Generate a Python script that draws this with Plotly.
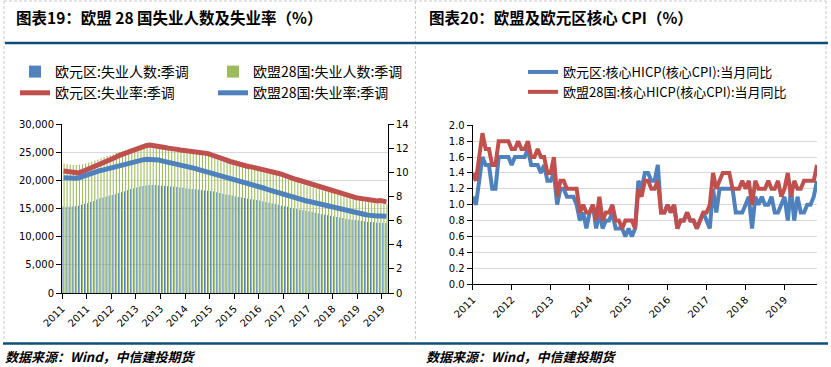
import plotly.graph_objects as go

W, H = 831, 367

# ---------------- data ----------------
months_left = [f"{y}-{m:02d}" for y in range(2011, 2020) for m in range(1, 13)][:106]

# 欧元区:失业人数:季调 (千人)
ea_unemployed = [
    15300, 15300, 15320, 15350, 15400, 15500, 15650, 15800, 15950, 16150, 16350, 16600,
    16800, 16950, 17100, 17250, 17400, 17550, 17700, 17900, 18050, 18250, 18450, 18600,
    18750, 18900, 19000, 19100, 19150, 19170, 19150, 19100, 19050, 19000, 18950, 18900,
    18850, 18800, 18750, 18700, 18600, 18500, 18450, 18400, 18350, 18250, 18200, 18150,
    18100, 18000, 17900, 17750, 17600, 17500, 17400, 17300, 17150, 17050, 16950, 16850,
    16750, 16650, 16600, 16500, 16400, 16250, 16150, 16000, 15900, 15800, 15650, 15500,
    15400, 15300, 15150, 15000, 14900, 14800, 14700, 14600, 14500, 14400, 14250, 14100,
    14000, 13900, 13800, 13700, 13600, 13500, 13400, 13300, 13200, 13100, 13000, 12950,
    12850, 12800, 12700, 12650, 12600, 12550, 12500, 12480, 12450, 12430,
]
# 欧盟28国:失业人数:季调 (千人)
eu28_unemployed = [
    23000, 22850, 22750, 22700, 22700, 22750, 22850, 23000, 23150, 23300, 23500, 23700,
    23900, 24100, 24300, 24450, 24650, 24850, 25000, 25150, 25350, 25550, 25750, 25950,
    26150, 26300, 26450, 26550, 26570, 26550, 26500, 26400, 26300, 26200, 26100, 26000,
    25900, 25820, 25750, 25680, 25600, 25500, 25400, 25300, 25200, 25080, 24950, 24850,
    24700, 24600, 24500, 24350, 24200, 24050, 23900, 23750, 23600, 23450, 23300, 23150,
    23000, 22800, 22550, 22300, 22100, 21900, 21700, 21500, 21300, 21050, 20800, 20550,
    20350, 20150, 19950, 19750, 19550, 19350, 19150, 18950, 18850, 18700, 18550, 18400,
    18250, 18100, 17950, 17800, 17700, 17550, 17400, 17250, 17100, 16950, 16800, 16650,
    16500, 16350, 16200, 16100, 16000, 15900, 15850, 15800, 15760, 15740,
]
# 欧元区:失业率:季调 (%)
ea_rate = [
    10.10, 10.05, 10.00, 9.95, 9.92, 9.95, 10.05, 10.15, 10.30, 10.45, 10.55, 10.65,
    10.75, 10.85, 10.95, 11.05, 11.15, 11.25, 11.38, 11.48, 11.58, 11.68, 11.80, 11.90,
    12.00, 12.10, 12.18, 12.22, 12.25, 12.23, 12.20, 12.15, 12.10, 12.05, 12.00, 12.00,
    11.95, 11.90, 11.85, 11.82, 11.80, 11.78, 11.75, 11.72, 11.68, 11.65, 11.60, 11.55,
    11.45, 11.38, 11.30, 11.20, 11.10, 11.00, 10.90, 10.82, 10.75, 10.68, 10.60, 10.52,
    10.48, 10.45, 10.40, 10.35, 10.30, 10.25, 10.15, 10.10, 10.05, 10.00, 9.90, 9.82,
    9.70, 9.65, 9.55, 9.45, 9.38, 9.30, 9.20, 9.12, 9.05, 8.95, 8.85, 8.75,
    8.70, 8.65, 8.58, 8.50, 8.45, 8.38, 8.28, 8.20, 8.12, 8.05, 7.98, 7.90,
    7.85, 7.80, 7.75, 7.70, 7.65, 7.60, 7.62, 7.65, 7.60, 7.55,
]
# 欧盟28国:失业率:季调 (%)
eu28_rate = [
    9.55, 9.52, 9.50, 9.50, 9.50, 9.55, 9.65, 9.75, 9.85, 9.95, 10.02, 10.10,
    10.15, 10.20, 10.25, 10.30, 10.38, 10.45, 10.50, 10.58, 10.65, 10.72, 10.80, 10.88,
    10.95, 11.00, 11.05, 11.08, 11.08, 11.08, 11.06, 11.02, 10.95, 10.90, 10.85, 10.80,
    10.72, 10.65, 10.60, 10.55, 10.50, 10.45, 10.38, 10.30, 10.22, 10.15, 10.10, 10.05,
    9.95, 9.88, 9.82, 9.75, 9.65, 9.58, 9.50, 9.42, 9.35, 9.28, 9.20, 9.12,
    9.05, 9.00, 8.95, 8.85, 8.78, 8.70, 8.60, 8.52, 8.45, 8.38, 8.30, 8.20,
    8.10, 8.05, 7.98, 7.90, 7.82, 7.75, 7.70, 7.62, 7.58, 7.52, 7.45, 7.35,
    7.30, 7.22, 7.15, 7.08, 7.00, 6.95, 6.88, 6.82, 6.78, 6.72, 6.68, 6.62,
    6.60, 6.55, 6.50, 6.45, 6.40, 6.38, 6.38, 6.38, 6.38, 6.35,
]
left_tick_labels = ["2011", "2011", "2012", "2013", "2013", "2014", "2015",
                    "2015", "2016", "2017", "2017", "2018", "2019", "2019"]

months_right = [f"{y}-{m:02d}" for y in range(2011, 2020) for m in range(1, 13)][:107]
# 欧元区:核心HICP(核心CPI):当月同比 (%)
ea_core_hicp = [
    1.1, 1.0, 1.3, 1.6, 1.5, 1.5, 1.2, 1.2, 1.6, 1.6, 1.6, 1.6,
    1.5, 1.6, 1.6, 1.6, 1.6, 1.7, 1.5, 1.5, 1.5, 1.4, 1.5, 1.3,
    1.3, 1.4, 1.0, 1.2, 1.2, 1.1, 1.1, 1.1, 1.0, 0.8, 0.9, 0.7,
    0.9, 1.0, 0.7, 0.9, 0.7, 0.8, 0.8, 0.9, 0.7, 0.7, 0.7, 0.6,
    0.7, 0.6, 0.7, 1.3, 1.2, 1.4, 1.4, 1.3, 1.3, 1.5, 0.9, 0.9,
    1.0, 0.9, 1.0, 0.7, 0.8, 0.8, 0.9, 0.8, 0.8, 0.7, 0.8, 0.9,
    0.8, 0.7, 1.2, 0.9, 1.2, 1.2, 1.2, 1.2, 1.2, 0.9, 0.9, 0.9,
    1.0, 1.1, 0.7, 1.1, 1.0, 1.1, 1.0, 1.0, 1.1, 0.9, 0.9, 1.0,
    1.1, 0.8, 1.2, 0.8, 1.1, 0.9, 0.9, 1.0, 1.0, 1.1, 1.3,
]
# 欧盟28国:核心HICP(核心CPI):当月同比 (%)
eu28_core_hicp = [
    1.4, 1.3, 1.6, 1.9, 1.7, 1.7, 1.5, 1.5, 1.8, 1.8, 1.8, 1.8,
    1.7, 1.7, 1.8, 1.7, 1.7, 1.8, 1.6, 1.6, 1.7, 1.6, 1.6, 1.4,
    1.4, 1.6, 1.1, 1.3, 1.3, 1.2, 1.2, 1.2, 1.2, 0.9, 1.0, 0.9,
    0.9, 1.0, 0.8, 1.1, 0.8, 0.9, 0.9, 1.0, 0.8, 0.8, 0.7, 0.8,
    0.8, 0.8, 0.7, 1.2, 1.1, 1.3, 1.3, 1.2, 1.2, 1.3, 0.9, 0.9,
    1.0, 0.9, 1.0, 0.7, 0.8, 0.8, 0.9, 0.8, 0.8, 0.7, 0.8, 0.9,
    0.9, 1.0, 1.4, 1.2, 1.3, 1.4, 1.4, 1.4, 1.2, 1.2, 1.2, 1.3,
    1.2, 1.3, 1.0, 1.3, 1.2, 1.2, 1.2, 1.3, 1.2, 1.2, 1.3, 1.1,
    1.2, 1.4, 1.1, 1.3, 1.2, 1.2, 1.3, 1.3, 1.3, 1.3, 1.5,
]
right_tick_labels = ["2011", "2012", "2013", "2014", "2015", "2016", "2017", "2018", "2019"]

# ---------------- styling helpers ----------------
BLUE = "#4F81BD"
GREEN = "#9BBB59"
RED = "#C0504D"
NAVY = "#0E4E7B"
GRID = "#D9D9D9"
CJK = "Noto Sans CJK SC"
TICKFONT = dict(family="DejaVu Sans", size=10, color="#000000")


def px(x):
    return x / W


def py(y):
    return 1 - y / H


xl = list(range(len(months_left)))
xr = list(range(len(months_right)))

fig = go.Figure()
fig.add_trace(go.Bar(
    x=xl, y=ea_unemployed, name="欧元区:失业人数:季调", customdata=months_left,
    marker=dict(color="rgba(79,129,189,0.99)", line=dict(width=0)),
    xaxis="x", yaxis="y", legend="legend"))
fig.add_trace(go.Bar(
    x=xl, y=eu28_unemployed, name="欧盟28国:失业人数:季调", customdata=months_left,
    marker=dict(color="rgba(155,187,89,0.99)", line=dict(width=0)),
    xaxis="x", yaxis="y", legend="legend2"))
fig.add_trace(go.Scatter(
    x=xl, y=ea_rate, name="欧元区:失业率:季调", mode="lines",
    line=dict(color=RED, width=5), xaxis="x", yaxis="y2", legend="legend"))
fig.add_trace(go.Scatter(
    x=xl, y=eu28_rate, name="欧盟28国:失业率:季调", mode="lines",
    line=dict(color=BLUE, width=5), xaxis="x", yaxis="y2", legend="legend2"))
fig.add_trace(go.Scatter(
    x=xr, y=ea_core_hicp, name="欧元区:核心HICP(核心CPI):当月同比", mode="lines",
    line=dict(color=BLUE, width=4), xaxis="x2", yaxis="y3", legend="legend3"))
fig.add_trace(go.Scatter(
    x=xr, y=eu28_core_hicp, name="欧盟28国:核心HICP(核心CPI):当月同比", mode="lines",
    line=dict(color=RED, width=4), xaxis="x2", yaxis="y3", legend="legend3"))

axis_common = dict(showline=True, linecolor="#000000", linewidth=1, ticks="outside",
                   ticklen=5, tickcolor="#000000", zeroline=False, tickfont=TICKFONT,
                   automargin=False)

legend_common = dict(xanchor="left", yanchor="top", orientation="v", tracegroupgap=0,
                     bgcolor="rgba(0,0,0,0)", borderwidth=0, itemwidth=30,
                     font=dict(family=CJK, size=14, color="#000000"))

fig.update_layout(
    template="none",
    width=W, height=H, autosize=False,
    margin=dict(l=0, r=0, t=0, b=0, pad=0, autoexpand=False),
    paper_bgcolor="white", plot_bgcolor="rgba(0,0,0,0)",
    barmode="group", bargap=0.3, bargroupgap=0,
    showlegend=True,
    font=dict(family="DejaVu Sans", size=10, color="#000000"),
    legend=dict(x=px(15), y=py(56), **legend_common),
    legend2=dict(x=px(213), y=py(56), **legend_common),
    legend3=dict(x=px(523), y=py(57), xanchor="left", yanchor="top", orientation="v",
                 tracegroupgap=0, bgcolor="rgba(0,0,0,0)", borderwidth=0, itemwidth=30,
                 font=dict(family=CJK, size=13, color="#000000")),
    xaxis=dict(domain=[px(62), px(388)], anchor="y", range=[-0.5, len(xl) - 0.5],
               tickmode="array", tickvals=[-0.5 + 8 * k for k in range(len(left_tick_labels))],
               ticktext=left_tick_labels, tickangle=-45, showgrid=False, **axis_common),
    yaxis=dict(domain=[py(293), py(124)], anchor="x", range=[0, 30000], dtick=5000,
               tickformat=",", showgrid=True, gridcolor=GRID, gridwidth=1, **axis_common),
    yaxis2=dict(overlaying="y", side="right", anchor="x", range=[0, 14], dtick=2,
                showgrid=False, **axis_common),
    xaxis2=dict(domain=[px(472.7), px(817)], anchor="y3", range=[0, len(xr) - 1],
                tickmode="array", tickvals=[12 * k for k in range(len(right_tick_labels))],
                ticktext=right_tick_labels, tickangle=-45, showgrid=False, **axis_common),
    yaxis3=dict(domain=[py(284), py(125.3)], anchor="x2", range=[0, 2], dtick=0.2,
                tickformat=".1f", showgrid=True, gridcolor=GRID, gridwidth=1, **axis_common),
)

# titles and sources
fig.add_annotation(text="<b>图表19：欧盟 28 国失业人数及失业率（%）</b>", x=px(14), y=py(17),
                   xref="paper", yref="paper", xanchor="left", yanchor="middle", showarrow=False,
                   font=dict(family=CJK, size=15.5, color="#000000"))
fig.add_annotation(text="<b>图表20：欧盟及欧元区核心 CPI（%）</b>", x=px(427), y=py(17),
                   xref="paper", yref="paper", xanchor="left", yanchor="middle", showarrow=False,
                   font=dict(family=CJK, size=15.5, color="#000000"))
for sx in (3, 424):
    fig.add_annotation(text="<b><i>数据来源：Wind，中信建投期货</i></b>", x=px(sx), y=py(356),
                       xref="paper", yref="paper", xanchor="left", yanchor="middle",
                       showarrow=False, font=dict(family=CJK, size=13, color="#000000"))

# frame lines
shapes = []
for x in (4, 415.5, 826):
    shapes.append(dict(type="line", xref="paper", yref="paper", x0=px(x), x1=px(x),
                       y0=py(1), y1=py(341), line=dict(color="#C8C8C8", width=1, dash="3px,2px")))
shapes.append(dict(type="line", xref="paper", yref="paper", x0=px(4), x1=px(826),
                   y0=py(1), y1=py(1), line=dict(color="#C8C8C8", width=1, dash="3px,2px")))
shapes.append(dict(type="line", xref="paper", yref="paper", x0=px(5), x1=px(828),
                   y0=py(43), y1=py(43), line=dict(color=NAVY, width=2.5)))
shapes.append(dict(type="line", xref="paper", yref="paper", x0=px(3), x1=px(828),
                   y0=py(343.5), y1=py(343.5), line=dict(color=NAVY, width=2.5)))
fig.update_layout(shapes=shapes)

fig.write_html("out.html", config={"displayModeBar": False},
               post_script="document.body.style.margin='0';document.body.style.overflow='hidden';")
